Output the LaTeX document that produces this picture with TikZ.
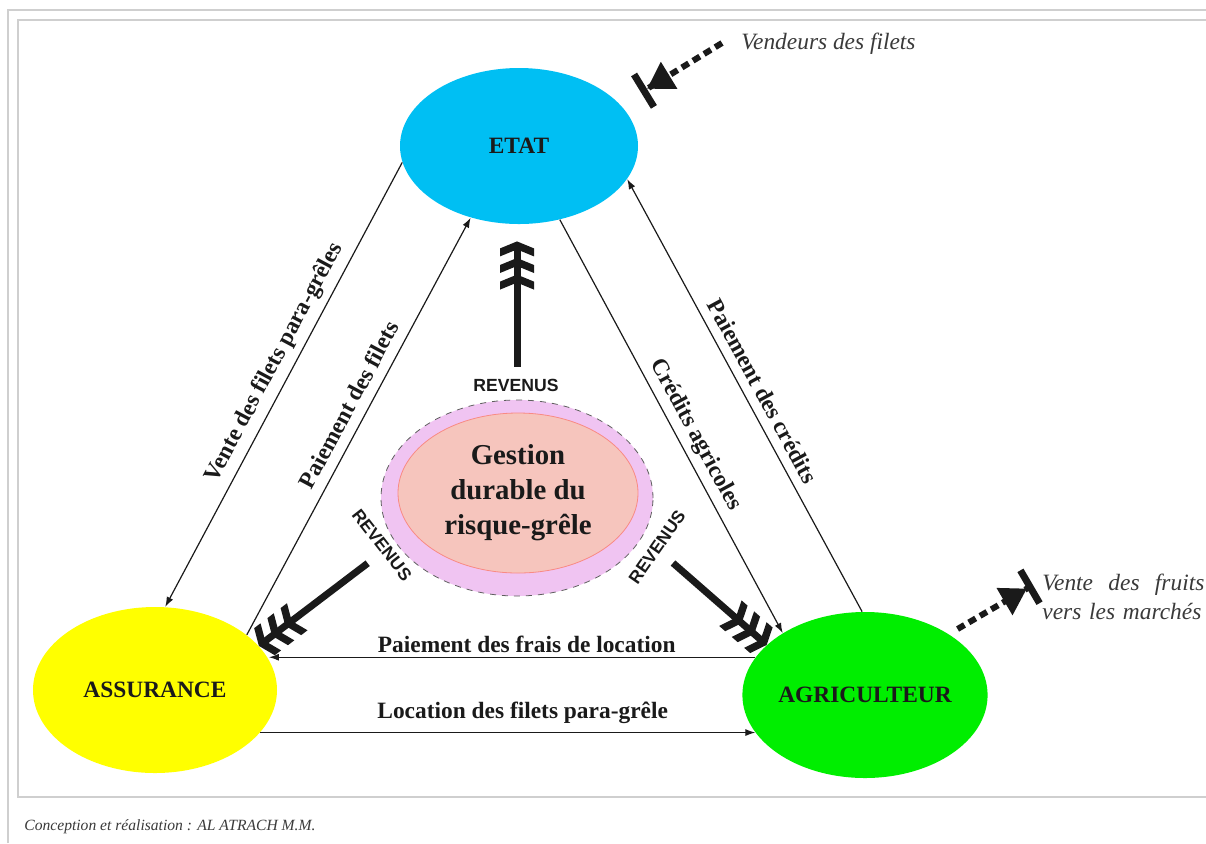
\documentclass[tikz,border=0pt]{standalone}
\usepackage{fontspec}
\setmainfont{Liberation Serif}
\setsansfont{Liberation Sans}
\usepackage{tikz}
\usetikzlibrary{arrows.meta,shapes.geometric,calc}
\definecolor{etatc}{HTML}{00BFF3}
\definecolor{assurc}{HTML}{FFFF00}
\definecolor{agric}{HTML}{00EE00}
\definecolor{lilac}{HTML}{F0C4F2}
\definecolor{salmon}{HTML}{F6C5BD}
\definecolor{ink}{HTML}{1A1A1A}
\definecolor{grayink}{HTML}{3A3A3A}
\definecolor{frame}{HTML}{CFCFCF}
% chevron (filled, constant thickness)
\pgfdeclarearrow{
  name = Chev,
  parameters = {\the\pgfarrowlength,\the\pgfarrowwidth,\the\pgfarrowinset},
  setup code = {
    \pgfarrowssettipend{0pt}
    \pgfarrowssetbackend{-\pgfarrowlength}
    \pgfarrowssetlineend{-.5\pgfarrowinset}
    \pgfarrowssetvisualbackend{-\pgfarrowinset}
    \pgfarrowssavethe\pgfarrowlength
    \pgfarrowssavethe\pgfarrowwidth
    \pgfarrowssavethe\pgfarrowinset
    \pgfarrowsupperhullpoint{0pt}{0pt}
    \pgfarrowsupperhullpoint{-\pgfarrowlength}{.5\pgfarrowwidth}
  },
  drawing code = {
    \pgfpathmoveto{\pgfqpoint{0pt}{0pt}}
    \pgfpathlineto{\pgfpoint{-\pgfarrowlength+\pgfarrowinset}{.5\pgfarrowwidth}}
    \pgfpathlineto{\pgfpoint{-\pgfarrowlength}{.5\pgfarrowwidth}}
    \pgfpathlineto{\pgfpoint{-\pgfarrowinset}{0pt}}
    \pgfpathlineto{\pgfpoint{-\pgfarrowlength}{-.5\pgfarrowwidth}}
    \pgfpathlineto{\pgfpoint{-\pgfarrowlength+\pgfarrowinset}{-.5\pgfarrowwidth}}
    \pgfpathclose
    \pgfusepathqfill
  },
  defaults = {length=7.5pt, width=17pt, inset=4pt}
}
\tikzset{
  actor/.style={ellipse, inner sep=0pt, text=ink,
                font=\fontsize{11.7}{14}\selectfont\bfseries},
  elbl/.style={font=\fontsize{11.7}{14}\selectfont\bfseries, text=ink, inner sep=2pt},
  rlbl/.style={font=\sffamily\bfseries\fontsize{8.8}{10}\selectfont, text=ink, inner sep=1pt},
  itl/.style={font=\fontsize{11.7}{14.5}\selectfont\itshape, text=grayink, inner sep=0pt},
  foot/.style={font=\fontsize{7.8}{9}\selectfont\itshape, text=grayink, inner sep=0pt},
  fl/.style={-{Latex[length=5pt,width=3.5pt]}, draw=ink, line width=0.6pt},
  rev/.style={draw=ink, line width=3.5pt, -{Chev[sep=0.8pt]Chev[sep=0.8pt]Chev}},
  dsh/.style={draw=ink, line width=3pt, dash pattern=on 4pt off 2.5pt,
              -{Triangle[length=13pt,width=15pt,sep=0pt]Bar[width=19pt,line width=3.5pt]}},
  frm/.style={draw=frame, line width=1pt}
}

\begin{document}
\begin{tikzpicture}[x=0.5pt, y=-0.5pt]
  \useasboundingbox (0,0) rectangle (1206,843);
  \fill[white] (0,0) rectangle (1206,843);
  \draw[frm] (8,843) -- (8,10) -- (1206,10);
  \draw[frm] (1206,797) -- (18,797) -- (18,20) -- (1206,20);

  % acteurs
  \node[actor, fill=etatc, minimum width=119pt, minimum height=78pt] (etat) at (519,146) {ETAT};
  \node[actor, fill=assurc, minimum width=122pt, minimum height=83pt] (assur) at (155,690) {ASSURANCE};
  \node[actor, fill=agric, minimum width=118pt, minimum height=83pt] (agri) at (865,695) {AGRICULTEUR};
  \node[ellipse, fill=lilac, draw=ink!70, dashed, line width=0.4pt,
        minimum width=136pt, minimum height=98pt] (gest) at (517,498) {};
  \node[ellipse, fill=salmon, draw=salmon!70!red, line width=0.4pt, inner sep=0pt,
        minimum width=120pt, minimum height=80pt, align=center, text=ink,
        font=\fontsize{14.4}{17.5}\selectfont\bfseries] (gestin) at (518,493)
        {Gestion\\durable du\\risque-grêle};

  % flux
  \draw[fl] (etat.188) -- node[elbl, sloped, above=1.5pt, pos=0.47] {Vente des filets para-grêles} (assur.83);
  \draw[fl] (assur.31) -- node[elbl, sloped, above=3pt, pos=0.53] {Paiement des filets} (etat.236);
  \draw[fl] (etat.299.5) -- node[elbl, sloped, above=1pt, pos=0.54] {Crédits agricoles} (agri.143.9);
  \draw[fl] (agri.92) -- node[elbl, sloped, above=2.5pt, pos=0.49] {Paiement des crédits} (etat.343);
  \draw[fl] (agri.161) -- node[elbl, above, pos=0.47] {Paiement des frais de location} (agri.161 -| assur.15);
  \draw[fl] (assur.338) -- node[elbl, above=2pt, pos=0.53] {Location des filets para-grêle} (assur.338 -| agri.199);

  % revenus
  \draw[rev, shorten <=16.5pt, shorten >=8.5pt] (gest.north) -- (gest.north |- etat.south);
  \draw[rev, shorten <=17.3pt] (gest.200) -- (assur.23);
  \draw[rev, shorten <=20.2pt] (gest.343.6) -- (agri.153.8);
  \node[rlbl] (revn) at (516,385) {REVENUS};
  \node[rlbl, rotate=-52] (revw) at (382,545) {REVENUS};
  \node[rlbl, rotate=55] (reve) at (657,547) {REVENUS};

  % exterieur
  \node[itl, anchor=west] (vend) at (741,44) {Vendeurs des filets};
  \coordinate (vtail) at (722,43);
  \draw[dsh, shorten >=11.9pt] (vtail) -- (etat.22.4);
  \node[itl, anchor=north west, align=left, text width=81pt] (fruit) at (1042,574)
        {Vente\hfill des\hfill fruits\\vers les marchés};
  \coordinate (ftip) at (1033,585);
  \draw[dsh, shorten <=5pt] (agri.36.4) -- (ftip);

  \node[foot, anchor=west] (credit) at (24,827) {Conception et réalisation : AL ATRACH M.M.};
\end{tikzpicture}
\end{document}
